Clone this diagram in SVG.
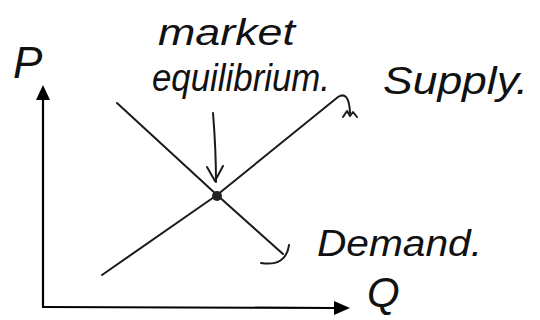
<svg xmlns="http://www.w3.org/2000/svg" width="540" height="320" viewBox="0 0 540 320">
<style>
.ln{fill:none;stroke:#1a1a1a;stroke-width:2;stroke-linecap:round;stroke-linejoin:round}
.ax{fill:none;stroke:#000;stroke-width:2.2}
.tx{font-family:"Liberation Sans","DejaVu Sans",sans-serif;font-style:italic;fill:#111}
</style>
<rect width="540" height="320" fill="#fff"/>
<g id="axes">
<line class="ax" x1="43" y1="307" x2="43" y2="99"/>
<path d="M43,85 L50,100 L36,100 z" fill="#000"/>
<line class="ax" x1="42" y1="307" x2="335" y2="308"/>
<path d="M350,308 L334,301 L334,315 z" fill="#000"/>
</g>
<g id="connectors">
<g id="supply">
<path class="ln" d="M102,275 L217,195 L338,97 Q349,90 350,113"/>
<path class="ln" stroke-width="1.6" d="M343,117 L347,111 L350,116 L353,112 L357,117"/>
</g>
<g id="demand">
<path class="ln" d="M117,103 L217,195 L283,254"/>
<path class="ln" d="M261,263 Q286,267 289,245"/>
</g>
<g id="pointer">
<path class="ln" d="M213,113 Q216,150 216,182"/>
<path class="ln" d="M207,167 L215,181 L223,166"/>
</g>
</g>
<g id="equilibrium">
<circle cx="217" cy="196" r="5" fill="#222"/>
</g>
<g id="labels">
<text class="tx" x="13" y="78" font-size="44">P</text>
<text class="tx" x="367" y="307" font-size="42">Q</text>
<text class="tx" x="158" y="45" font-size="36" textLength="137" lengthAdjust="spacingAndGlyphs">market</text>
<text class="tx" x="152" y="91" font-size="38" textLength="178" lengthAdjust="spacingAndGlyphs">equilibrium.</text>
<text class="tx" x="383" y="94" font-size="38" textLength="145" lengthAdjust="spacingAndGlyphs">Supply.</text>
<text class="tx" x="317" y="256" font-size="36" textLength="165" lengthAdjust="spacingAndGlyphs">Demand.</text>
</g>
</svg>
